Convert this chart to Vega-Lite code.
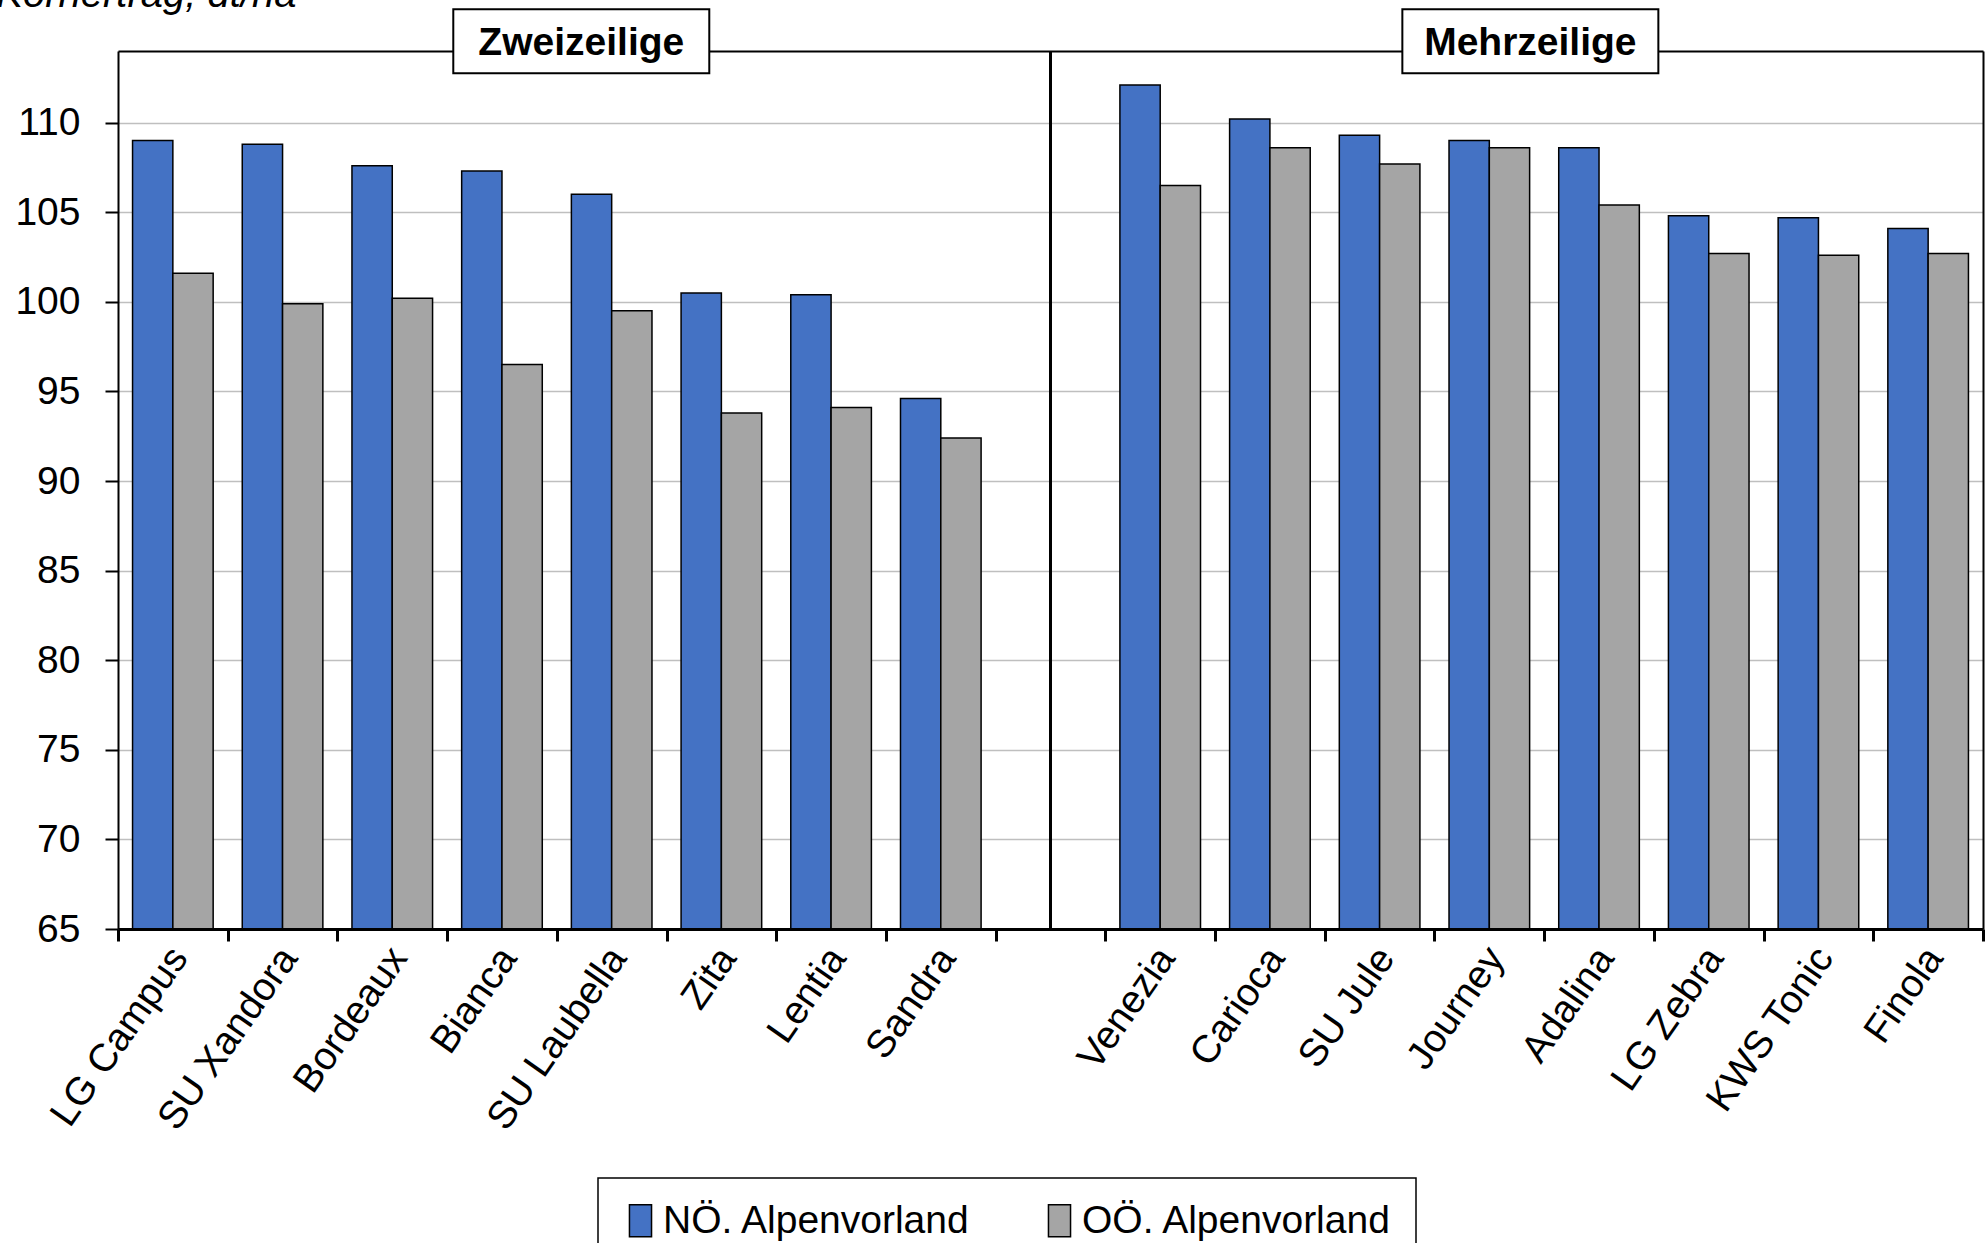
{
  "$schema": "https://vega.github.io/schema/vega-lite/v6.json",
  "width": 1865,
  "height": 878,
  "autosize": {"type": "none"},
  "padding": {"left": 118, "top": 51, "right": 4, "bottom": 314},
  "background": "white",
  "config": {
    "font": "Liberation Sans",
    "view": {"stroke": null},
    "legend": {"strokeWidth": 1.5}
  },
  "datasets": {
    "bars": [
      {"Sorte": "LG Campus", "Gruppe": "Zweizeilige", "Region": "NÖ. Alpenvorland", "Ertrag": 109.0},
      {"Sorte": "LG Campus", "Gruppe": "Zweizeilige", "Region": "OÖ. Alpenvorland", "Ertrag": 101.6},
      {"Sorte": "SU Xandora", "Gruppe": "Zweizeilige", "Region": "NÖ. Alpenvorland", "Ertrag": 108.8},
      {"Sorte": "SU Xandora", "Gruppe": "Zweizeilige", "Region": "OÖ. Alpenvorland", "Ertrag": 99.9},
      {"Sorte": "Bordeaux", "Gruppe": "Zweizeilige", "Region": "NÖ. Alpenvorland", "Ertrag": 107.6},
      {"Sorte": "Bordeaux", "Gruppe": "Zweizeilige", "Region": "OÖ. Alpenvorland", "Ertrag": 100.2},
      {"Sorte": "Bianca", "Gruppe": "Zweizeilige", "Region": "NÖ. Alpenvorland", "Ertrag": 107.3},
      {"Sorte": "Bianca", "Gruppe": "Zweizeilige", "Region": "OÖ. Alpenvorland", "Ertrag": 96.5},
      {"Sorte": "SU Laubella", "Gruppe": "Zweizeilige", "Region": "NÖ. Alpenvorland", "Ertrag": 106.0},
      {"Sorte": "SU Laubella", "Gruppe": "Zweizeilige", "Region": "OÖ. Alpenvorland", "Ertrag": 99.5},
      {"Sorte": "Zita", "Gruppe": "Zweizeilige", "Region": "NÖ. Alpenvorland", "Ertrag": 100.5},
      {"Sorte": "Zita", "Gruppe": "Zweizeilige", "Region": "OÖ. Alpenvorland", "Ertrag": 93.8},
      {"Sorte": "Lentia", "Gruppe": "Zweizeilige", "Region": "NÖ. Alpenvorland", "Ertrag": 100.4},
      {"Sorte": "Lentia", "Gruppe": "Zweizeilige", "Region": "OÖ. Alpenvorland", "Ertrag": 94.1},
      {"Sorte": "Sandra", "Gruppe": "Zweizeilige", "Region": "NÖ. Alpenvorland", "Ertrag": 94.6},
      {"Sorte": "Sandra", "Gruppe": "Zweizeilige", "Region": "OÖ. Alpenvorland", "Ertrag": 92.4},
      {"Sorte": "Venezia", "Gruppe": "Mehrzeilige", "Region": "NÖ. Alpenvorland", "Ertrag": 112.1},
      {"Sorte": "Venezia", "Gruppe": "Mehrzeilige", "Region": "OÖ. Alpenvorland", "Ertrag": 106.5},
      {"Sorte": "Carioca", "Gruppe": "Mehrzeilige", "Region": "NÖ. Alpenvorland", "Ertrag": 110.2},
      {"Sorte": "Carioca", "Gruppe": "Mehrzeilige", "Region": "OÖ. Alpenvorland", "Ertrag": 108.6},
      {"Sorte": "SU Jule", "Gruppe": "Mehrzeilige", "Region": "NÖ. Alpenvorland", "Ertrag": 109.3},
      {"Sorte": "SU Jule", "Gruppe": "Mehrzeilige", "Region": "OÖ. Alpenvorland", "Ertrag": 107.7},
      {"Sorte": "Journey", "Gruppe": "Mehrzeilige", "Region": "NÖ. Alpenvorland", "Ertrag": 109.0},
      {"Sorte": "Journey", "Gruppe": "Mehrzeilige", "Region": "OÖ. Alpenvorland", "Ertrag": 108.6},
      {"Sorte": "Adalina", "Gruppe": "Mehrzeilige", "Region": "NÖ. Alpenvorland", "Ertrag": 108.6},
      {"Sorte": "Adalina", "Gruppe": "Mehrzeilige", "Region": "OÖ. Alpenvorland", "Ertrag": 105.4},
      {"Sorte": "LG Zebra", "Gruppe": "Mehrzeilige", "Region": "NÖ. Alpenvorland", "Ertrag": 104.8},
      {"Sorte": "LG Zebra", "Gruppe": "Mehrzeilige", "Region": "OÖ. Alpenvorland", "Ertrag": 102.7},
      {"Sorte": "KWS Tonic", "Gruppe": "Mehrzeilige", "Region": "NÖ. Alpenvorland", "Ertrag": 104.7},
      {"Sorte": "KWS Tonic", "Gruppe": "Mehrzeilige", "Region": "OÖ. Alpenvorland", "Ertrag": 102.6},
      {"Sorte": "Finola", "Gruppe": "Mehrzeilige", "Region": "NÖ. Alpenvorland", "Ertrag": 104.1},
      {"Sorte": "Finola", "Gruppe": "Mehrzeilige", "Region": "OÖ. Alpenvorland", "Ertrag": 102.7}
    ],
    "headerZ": [{"Sorte": "SU Laubella", "Gruppe": "Zweizeilige"}],
    "headerM": [{"Sorte": "Journey", "Gruppe": "Mehrzeilige"}]
  },
  "layer": [
    {
      "data": {"name": "bars"},
      "mark": {"type": "bar", "stroke": "black", "strokeWidth": 1.5},
      "encoding": {
        "x": {
          "field": "Sorte", "type": "nominal",
          "scale": {
            "domain": ["LG Campus", "SU Xandora", "Bordeaux", "Bianca", "SU Laubella", "Zita", "Lentia", "Sandra", " ", "Venezia", "Carioca", "SU Jule", "Journey", "Adalina", "LG Zebra", "KWS Tonic", "Finola"],
            "paddingInner": 0,
            "paddingOuter": 0
          },
          "axis": {
            "orient": "bottom", "title": null, "zindex": 1,
            "tickBand": "extent", "ticks": true, "tickSize": 12, "tickWidth": 3, "tickColor": "black",
            "domain": true, "domainColor": "black", "domainWidth": 3,
            "grid": false,
            "labelAngle": -55, "labelAlign": "right", "labelBaseline": "middle",
            "labelFont": "Liberation Sans", "labelFontSize": 39, "labelColor": "black",
            "labelPadding": 10, "labelOffset": 6, "labelLimit": 600, "labelOverlap": false
          }
        },
        "xOffset": {
          "field": "Region", "type": "nominal",
          "scale": {"domain": ["NÖ. Alpenvorland", "OÖ. Alpenvorland"], "paddingInner": 0, "paddingOuter": 0.361}
        },
        "y": {
          "field": "Ertrag", "type": "quantitative",
          "scale": {"domain": [65, 114], "zero": false, "nice": false},
          "axis": {
            "orient": "left",
            "values": [65, 70, 75, 80, 85, 90, 95, 100, 105, 110],
            "title": "Kornertrag, dt/ha",
            "titleAngle": 0, "titleAlign": "right", "titleBaseline": "alphabetic",
            "titleX": 178, "titleY": -45,
            "titleFont": "Liberation Sans", "titleFontSize": 40, "titleFontStyle": "italic", "titleFontWeight": "normal", "titleColor": "black",
            "grid": true, "gridColor": "#BFBFBF", "gridWidth": 1.5,
            "ticks": true, "tickSize": 13, "tickWidth": 2, "tickColor": "black",
            "domain": true, "domainColor": "black", "domainWidth": 2,
            "labelFont": "Liberation Sans", "labelFontSize": 39, "labelColor": "black",
            "labelPadding": 25, "labelFlush": false, "labelOverlap": false, "labelBaseline": "middle"
          }
        },
        "y2": {"datum": 65},
        "color": {
          "field": "Region", "type": "nominal",
          "scale": {"domain": ["NÖ. Alpenvorland", "OÖ. Alpenvorland"], "range": ["#4472C4", "#A5A5A5"]},
          "legend": {
            "orient": "none", "legendX": 480, "legendY": 1127,
            "direction": "horizontal", "title": null,
            "strokeColor": "black", "padding": 23, "fillColor": "white",
            "symbolType": "M-0.69,-1L0.69,-1L0.69,1L-0.69,1Z",
            "symbolSize": 1024, "symbolStrokeColor": "black", "symbolStrokeWidth": 1.5, "symbolOpacity": 1,
            "labelFont": "Liberation Sans", "labelFontSize": 39, "labelColor": "black",
            "labelOffset": 3, "columnPadding": 69, "labelLimit": 600
          }
        }
      }
    },
    {
      "data": {"name": "bars"},
      "mark": {"type": "rule", "stroke": "black", "strokeWidth": 2},
      "encoding": {
        "x": {
          "datum": " ", "type": "nominal",
          "axis": {
            "orient": "top", "title": null, "labels": false, "ticks": false, "grid": false,
            "domain": true, "domainColor": "black", "domainWidth": 2, "zindex": 0
          }
        }
      }
    },
    {
      "data": {"name": "headerZ"},
      "mark": {"type": "point", "shape": "M-1,-0.25L1,-0.25L1,0.25L-1,0.25Z", "size": 65536, "filled": true, "fill": "white", "stroke": "black", "strokeWidth": 2, "opacity": 1, "clip": false},
      "encoding": {
        "x": {"field": "Sorte", "type": "nominal", "bandPosition": 0.223, "axis": null},
        "y": {
          "datum": 114.55, "type": "quantitative",
          "axis": {
            "orient": "right", "title": null, "labels": false, "ticks": false, "grid": false,
            "domain": true, "domainColor": "black", "domainWidth": 2, "zindex": 0
          }
        }
      }
    },
    {
      "data": {"name": "headerZ"},
      "mark": {"type": "text", "font": "Liberation Sans", "fontSize": 39, "fontWeight": "bold", "color": "black", "align": "center", "baseline": "middle", "dy": 2, "clip": false},
      "encoding": {
        "x": {"field": "Sorte", "type": "nominal", "bandPosition": 0.223, "axis": null},
        "y": {"datum": 114.55, "type": "quantitative", "axis": null},
        "text": {"field": "Gruppe"}
      }
    },
    {
      "data": {"name": "headerM"},
      "mark": {"type": "point", "shape": "M-1,-0.25L1,-0.25L1,0.25L-1,0.25Z", "size": 65536, "filled": true, "fill": "white", "stroke": "black", "strokeWidth": 2, "opacity": 1, "clip": false},
      "encoding": {
        "x": {"field": "Sorte", "type": "nominal", "bandPosition": 0.874, "axis": null},
        "y": {"datum": 114.55, "type": "quantitative", "axis": null}
      }
    },
    {
      "data": {"name": "headerM"},
      "mark": {"type": "text", "font": "Liberation Sans", "fontSize": 39, "fontWeight": "bold", "color": "black", "align": "center", "baseline": "middle", "dy": 2, "clip": false},
      "encoding": {
        "x": {"field": "Sorte", "type": "nominal", "bandPosition": 0.874, "axis": null},
        "y": {"datum": 114.55, "type": "quantitative", "axis": null},
        "text": {"field": "Gruppe"}
      }
    }
  ],
  "resolve": {
    "scale": {"x": "shared", "y": "shared"},
    "axis": {"x": "independent", "y": "independent"}
  }
}
